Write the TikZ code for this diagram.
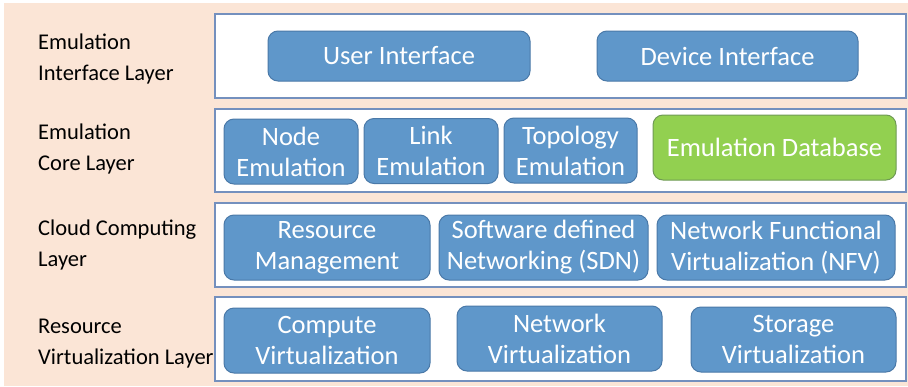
\documentclass[tikz,border=0pt]{standalone}
\usepackage{fontspec}
\setmainfont{Carlito}
\begin{document}
\begin{tikzpicture}[x=1pt,y=-1pt,
  layerbox/.style={draw=layerline, fill=white, line width=1.2pt},
  bluebox/.style={draw=blueline, fill=bluefill, rounded corners=10pt, line width=1pt,
    text=white, align=center, inner sep=0pt, font=\fontsize{26.5}{31}\selectfont},
  greenbox/.style={bluebox, draw=greenline, fill=greenfill},
  lbl/.style={anchor=north west, align=left, inner sep=0pt, text=black,
    font=\fontsize{22.5}{31}\selectfont}]
\definecolor{peach}{HTML}{FBE5D6}
\definecolor{layerline}{HTML}{7490BE}
\definecolor{bluefill}{HTML}{5F97CA}
\definecolor{blueline}{HTML}{4A79A8}
\definecolor{greenfill}{HTML}{92D050}
\definecolor{greenline}{HTML}{6F9A55}
\useasboundingbox (0,0) rectangle (908,386);
\fill[peach] (4,3) rectangle (908,386);
% layer boxes
\draw[layerbox] (215,14) rectangle (906,98);
\draw[layerbox] (215,109) rectangle (906,192);
\draw[layerbox] (215,203) rectangle (906,287);
\draw[layerbox] (215,297) rectangle (906,381);
% labels
\node[lbl] (l1) at (38,34) {Emulation\\Interface Layer};
\node[lbl] (l2) at (38,124) {Emulation\\Core Layer};
\node[lbl] (l3) at (38,220) {Cloud Computing\\Layer};
\node[lbl] (l4) at (38,319) {Resource\\Virtualization Layer};
% row 1
\node[bluebox, minimum width=262pt, minimum height=50pt] (ui) at (399,56) {User Interface};
\node[bluebox, minimum width=261pt, minimum height=50pt] (di) at (727.5,56) {Device Interface};
% row 2
\node[bluebox, minimum width=134pt, minimum height=65pt] (ne) at (291,151.5) {Node\\Emulation};
\node[bluebox, minimum width=134pt, minimum height=65pt] (le) at (431,151) {Link\\Emulation};
\node[bluebox, minimum width=133pt, minimum height=65pt] (te) at (570.5,150.5) {Topology\\Emulation};
\node[greenbox, minimum width=243pt, minimum height=65pt] (ed) at (774.5,147.5) {Emulation Database};
% row 3
\node[bluebox, minimum width=206pt, minimum height=65pt] (rm) at (327,247.5) {Resource\\Management};
\node[bluebox, minimum width=209pt, minimum height=65pt] (sdn) at (543.5,247.5) {Software defined\\Networking (SDN)};
\node[bluebox, minimum width=238pt, minimum height=65pt] (nfv) at (776,247.5) {Network Functional\\Virtualization (NFV)};
% row 4
\node[bluebox, minimum width=206pt, minimum height=65pt] (cv) at (327,340.5) {Compute\\Virtualization};
\node[bluebox, minimum width=205pt, minimum height=65pt] (nv) at (559.5,338.5) {Network\\Virtualization};
\node[bluebox, minimum width=205pt, minimum height=65pt] (sv) at (793.5,339.5) {Storage\\Virtualization};
\end{tikzpicture}
\end{document}
